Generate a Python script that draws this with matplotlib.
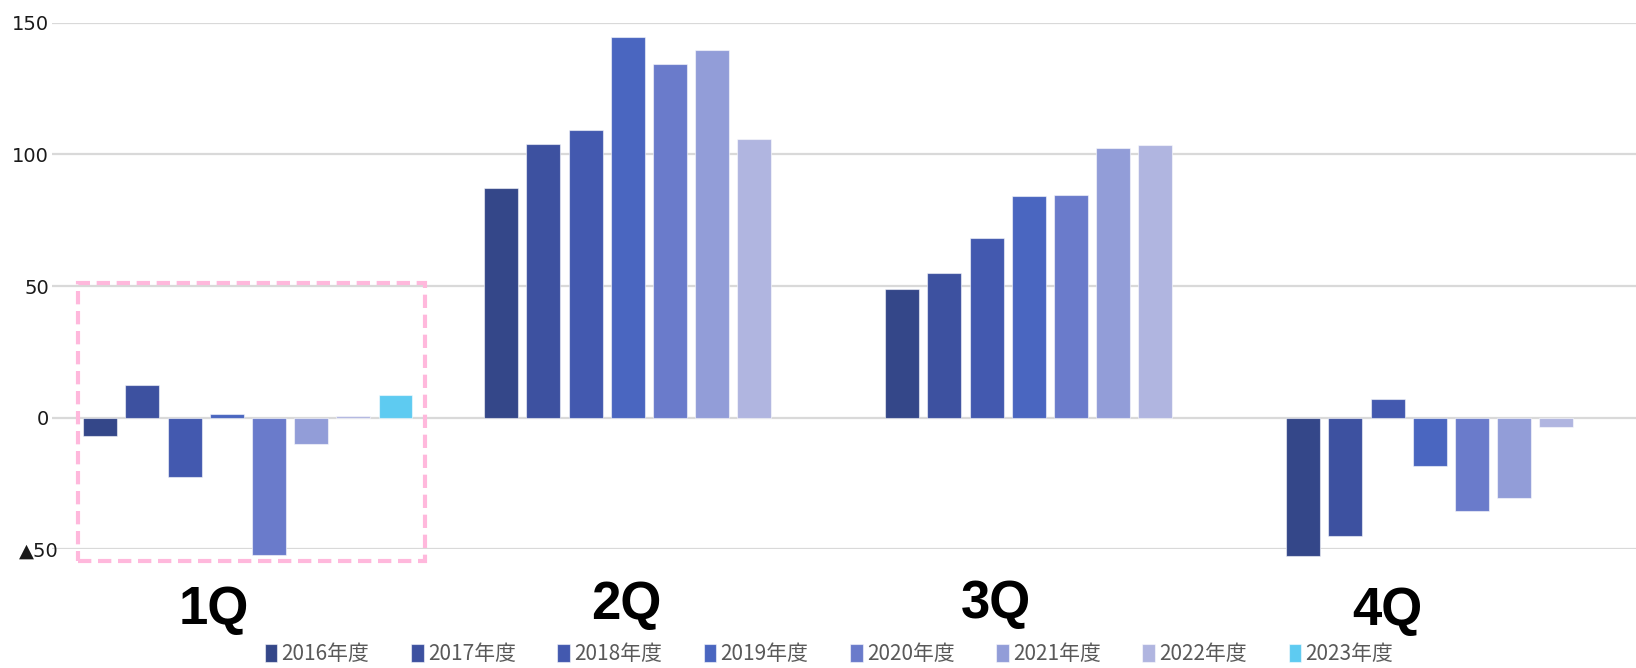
import matplotlib
matplotlib.use("Agg")
import matplotlib.pyplot as plt
from matplotlib.patches import Rectangle
import matplotlib.transforms as mtransforms
import numpy as np

quarters = ["1Q", "2Q", "3Q", "4Q"]
series_names = ["2016年度", "2017年度", "2018年度", "2019年度",
                "2020年度", "2021年度", "2022年度", "2023年度"]
v2016 = [-7.1, 87.2, 48.7, -52.4]
v2017 = [12.3, 103.8, 55.1, -45.1]
v2018 = [-22.5, 109.4, 68.4, 7.1]
v2019 = [1.4, 144.7, 84.3, -18.2]
v2020 = [-52.3, 134.4, 84.5, -35.6]
v2021 = [-10.1, 139.7, 102.5, -30.6]
v2022 = [0.5, 105.9, 103.4, -3.6]
v2023 = [8.5, None, None, None]
series_values = [v2016, v2017, v2018, v2019, v2020, v2021, v2022, v2023]
colors = ["#344789", "#3D51A0", "#4359AF", "#4A66C0",
          "#6A7BCB", "#929DD8", "#B0B5E0", "#5ECBF1"]
yticks = [-50, 0, 50, 100, 150]
ytick_labels = ["▲50", "0", "50", "100", "150"]

W, H = 1636, 668
fig = plt.figure(figsize=(W / 100, H / 100), dpi=100)
left_px, right_px = 51.8, 51.8 + 1604
top_px, bot_px = 22.7, 549.3
ax = fig.add_axes([left_px / W, 1 - bot_px / H, (right_px - left_px) / W, (bot_px - top_px) / H])

x = np.arange(len(quarters))
slot = 0.1052
bw = 0.0845
for i, (name, vals, c) in enumerate(zip(series_names, series_values, colors)):
    xs = [xx + (i - 3.5) * slot for xx, v in zip(x, vals) if v is not None]
    ys = [v for v in vals if v is not None]
    bars = ax.bar(xs, ys, width=bw, color=c, edgecolor=(1, 1, 1, 0.55), linewidth=0.8,
                  label=name, zorder=3)
    for b in bars:
        b.set_clip_on(False)

ax.set_xlim(-0.489, 3.511)
ax.set_ylim(-50, 150)
ax.set_yticks(yticks)
ax.set_yticklabels(ytick_labels, fontsize=14, family=["DejaVu Sans"], color="#1a1a1a")
ax.set_xticks([])
ax.grid(axis="y", color="#D9D9D9", linewidth=1.6, zorder=0)
ax.set_axisbelow(True)
for s in ax.spines.values():
    s.set_visible(False)
ax.tick_params(axis="y", length=0, pad=2)
# the ▲50 label sits a little further right in the reference
for lab in ax.get_yticklabels():
    if lab.get_text().startswith("▲"):
        lab.set_transform(lab.get_transform() +
                          mtransforms.ScaledTranslation(10 / 100, 0, fig.dpi_scale_trans))

# quarter labels
label_pos = [(-0.0845, -78.4), (0.943, -76.5), (1.866, -76.1), (2.841, -78.8)]
for q, (lx, ly) in zip(quarters, label_pos):
    ax.text(lx, ly, q, ha="center", va="baseline", fontsize=38, fontweight="bold",
            family=["Liberation Sans", "DejaVu Sans"], color="black", clip_on=False)

# pink dashed highlight box around 1Q
rect = Rectangle((-0.4237, -54.5), 0.866, 105.6, fill=False, edgecolor="#FFB8DC",
                 linewidth=3, linestyle=(0, (3.2, 1.6)), clip_on=False, zorder=4)
ax.add_patch(rect)

leg = fig.legend(loc="center", bbox_to_anchor=(829 / W, 1 - 654 / H), ncol=8,
                 frameon=False, handlelength=0.6, handleheight=1.0, handletextpad=0.2,
                 columnspacing=2.0,
                 prop={"family": ["Noto Sans CJK JP", "DejaVu Sans"], "size": 15})
for t in leg.get_texts():
    t.set_color("#595959")

fig.savefig("out.png", dpi=100)
